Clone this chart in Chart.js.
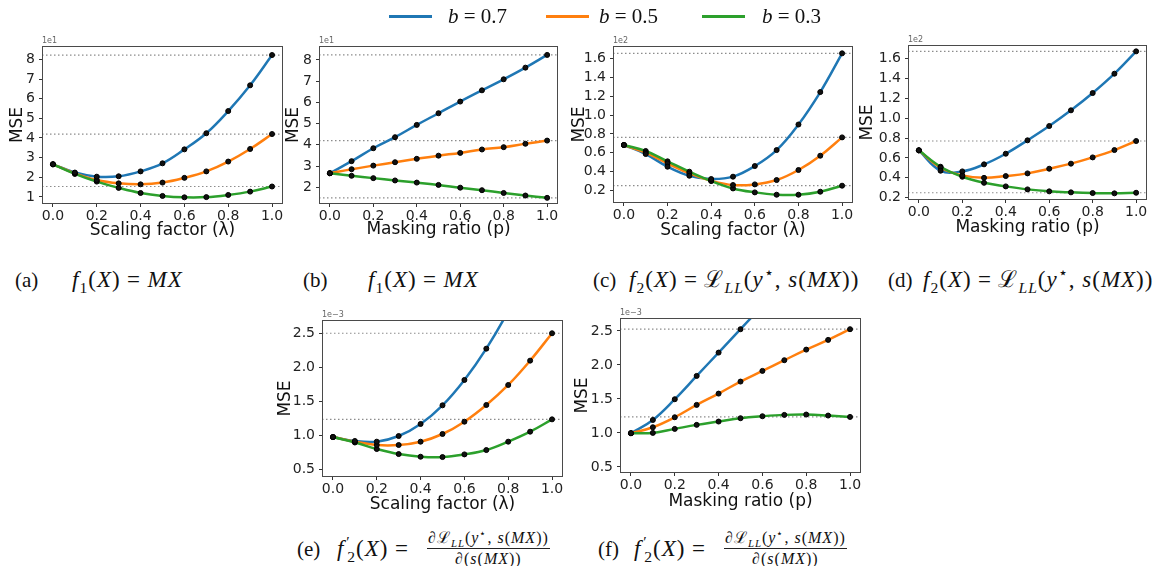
<!DOCTYPE html>
<html>
<head>
<meta charset="utf-8">
<script src="https://cdn.jsdelivr.net/npm/chart.js@4.4.1/dist/chart.umd.min.js"></script>
<style>
  html, body { margin: 0; padding: 0; background: #fff; }
  body { width: 1166px; height: 566px; position: relative; overflow: hidden;
         font-family: 'Liberation Serif', 'DejaVu Serif', serif; color: #111; }
  canvas { position: absolute; }
  .leg-line { position: absolute; height: 3px; width: 43px; }
  .txt { position: absolute; white-space: nowrap; font-size: 21px; line-height: 24px; }
  .math { font-size: 23px; letter-spacing: 1px; }
  .eq { margin: 0 0.28em; }
  sub, sup { font-size: 68%; line-height: 0; }
  .pr { margin-left: 0.12em; }
  .frac { position: absolute; font-size: 16px; line-height: 18px; letter-spacing: 1px; text-align: center; white-space: nowrap; }
  .frac .num { border-bottom: 1px solid #222; padding: 0 1px 1px; }
  .frac .den { padding-top: 1px; }
</style>
</head>
<body>
<script>
// shared x values and labels
const xValues = [0.0, 0.1, 0.2, 0.3, 0.4, 0.5, 0.6, 0.7, 0.8, 0.9, 1.0];
const xTicks = [0.0, 0.2, 0.4, 0.6, 0.8, 1.0];
const seriesLabels = ['0.7', '0.5', '0.3'];
const seriesColors = ['#1f77b4', '#ff7f0e', '#2ca02c'];

// (a) f1, scaling factor
const a07 = [2.66, 2.24, 2.03, 2.05, 2.30, 2.71, 3.42, 4.24, 5.37, 6.68, 8.22];
const a05 = [2.66, 2.20, 1.86, 1.69, 1.64, 1.73, 1.97, 2.30, 2.80, 3.44, 4.20];
const a03 = [2.66, 2.17, 1.78, 1.46, 1.20, 1.05, 0.98, 0.99, 1.10, 1.27, 1.53];
const aRefs = [8.22, 4.20, 1.53];
const aYTicks = [1, 2, 3, 4, 5, 6, 7, 8];

// (b) f1, masking ratio
const b07 = [2.66, 3.23, 3.84, 4.36, 4.94, 5.49, 6.04, 6.57, 7.09, 7.64, 8.24];
const b05 = [2.66, 2.85, 3.02, 3.18, 3.34, 3.49, 3.62, 3.78, 3.89, 4.05, 4.20];
const b03 = [2.66, 2.54, 2.43, 2.32, 2.22, 2.11, 1.98, 1.86, 1.73, 1.61, 1.50];
const bRefs = [8.24, 4.20, 1.50];
const bYTicks = [2, 3, 4, 5, 6, 7, 8];

// (c) f2, scaling factor
const c07 = [0.682, 0.586, 0.451, 0.355, 0.320, 0.345, 0.458, 0.628, 0.900, 1.245, 1.657];
const c05 = [0.682, 0.600, 0.487, 0.380, 0.302, 0.256, 0.263, 0.309, 0.416, 0.568, 0.763];
const c03 = [0.682, 0.618, 0.508, 0.398, 0.299, 0.220, 0.178, 0.153, 0.153, 0.185, 0.249];
const cRefs = [1.657, 0.763, 0.249];

// (d) f2, masking ratio
const d07 = [0.677, 0.472, 0.465, 0.536, 0.643, 0.778, 0.922, 1.080, 1.254, 1.449, 1.674];
const d05 = [0.677, 0.502, 0.425, 0.400, 0.418, 0.445, 0.492, 0.543, 0.606, 0.680, 0.771];
const d03 = [0.677, 0.512, 0.411, 0.350, 0.314, 0.284, 0.264, 0.254, 0.247, 0.244, 0.250];
const dRefs = [1.674, 0.771, 0.250];
const cdYTicks = [0.2, 0.4, 0.6, 0.8, 1.0, 1.2, 1.4, 1.6];

// (e) f2', scaling factor
const e07 = [0.980, 0.922, 0.912, 0.995, 1.172, 1.446, 1.819, 2.279, 2.830, 3.470, 4.200];
const e05 = [0.980, 0.912, 0.863, 0.863, 0.912, 1.025, 1.206, 1.451, 1.745, 2.103, 2.505];
const e03 = [0.980, 0.900, 0.804, 0.730, 0.691, 0.686, 0.725, 0.789, 0.912, 1.059, 1.240];
const eRefs = [2.505, 1.240];

// (f) f2', masking ratio
const f07 = [0.995, 1.190, 1.495, 1.838, 2.181, 2.525, 2.870, 3.210, 3.550, 3.890, 4.230];
const f05 = [0.995, 1.083, 1.230, 1.412, 1.578, 1.755, 1.912, 2.069, 2.225, 2.368, 2.525];
const f03 = [0.995, 1.000, 1.059, 1.118, 1.167, 1.216, 1.245, 1.265, 1.270, 1.255, 1.235];
const fRefs = [2.525, 1.235];
const efYTicks = [0.5, 1.0, 1.5, 2.0, 2.5];

const FONT = "'DejaVu Sans', sans-serif";

// frame + "1eN" offset text like matplotlib
const framePlugin = {
    id: 'frame',
    afterDraw(chart, args, opts) {
        const { ctx, chartArea: a } = chart;
        ctx.save();
        ctx.strokeStyle = '#4a4a4a';
        ctx.lineWidth = 1;
        ctx.strokeRect(a.left + 0.5, a.top + 0.5, a.right - a.left - 1, a.bottom - a.top - 1);
        ctx.fillStyle = '#666';
        ctx.font = "8px " + FONT;
        ctx.textBaseline = 'bottom';
        ctx.fillText(opts.text || '', a.left, a.top - 1);
        ctx.restore();
    }
};

const panels = [
    { series: [a07, a05, a03], refs: aRefs, yTicks: aYTicks, yMin: 0.64, yMax: 8.68, dec: 0, offset: '1e1',
      xTitle: 'Scaling factor (λ)', box: [42, 46, 283, 204], yTitleX: 17, xTitleY: 231 },
    { series: [b07, b05, b03], refs: bRefs, yTicks: bYTicks, yMin: 1.21, yMax: 8.66, dec: 0, offset: '1e1',
      xTitle: 'Masking ratio (p)', box: [319, 46, 558, 204], yTitleX: 293, xTitleY: 230 },
    { series: [c07, c05, c03], refs: cRefs, yTicks: cdYTicks, yMin: 0.065, yMax: 1.735, dec: 1, offset: '1e2',
      xTitle: 'Scaling factor (λ)', box: [613, 46, 853, 203], yTitleX: 579, xTitleY: 231 },
    { series: [d07, d05, d03], refs: dRefs, yTicks: cdYTicks, yMin: 0.177, yMax: 1.738, dec: 1, offset: '1e2',
      xTitle: 'Masking ratio (p)', box: [908, 45, 1147, 200], yTitleX: 867, xTitleY: 228 },
    { series: [e07, e05, e03], refs: eRefs, yTicks: efYTicks, yMin: 0.393, yMax: 2.70, dec: 1, offset: '1e\u22123',
      xTitle: 'Scaling factor (λ)', box: [322, 320, 563, 477], yTitleX: 285, xTitleY: 505 },
    { series: [f07, f05, f03], refs: fRefs, yTicks: efYTicks, yMin: 0.41, yMax: 2.69, dec: 1, offset: '1e\u22123',
      xTitle: 'Masking ratio (p)', box: [620, 318, 861, 473], yTitleX: 582, xTitleY: 502 }
];

function makeChart(p) {
    const [l, t, r, b] = p.box;
    const padTop = 14, padRight = 14;
    const cl = Math.round(p.yTitleX - 10);
    const cb = Math.round(p.xTitleY + 10);
    const W = l - cl, H = cb - b;

    const canvas = document.createElement('canvas');
    canvas.width = r + padRight - cl;
    canvas.height = cb - (t - padTop);
    canvas.style.left = cl + 'px';
    canvas.style.top = (t - padTop) + 'px';
    document.body.appendChild(canvas);

    const datasets = [];
    p.refs.forEach(v => {
        datasets.push({
            data: [{ x: -0.05, y: v }, { x: 1.05, y: v }],
            borderColor: '#8c8c8c', borderWidth: 1.2, borderDash: [1.5, 2.5],
            pointRadius: 0, tension: 0, order: 10
        });
    });
    p.series.forEach((ys, i) => {
        const pts = xValues.map((x, j) => ({ x: x, y: ys[j] }));
        datasets.push({
            label: 'b = ' + seriesLabels[i], data: pts,
            borderColor: seriesColors[i], borderWidth: 2.5,
            pointRadius: 0, tension: 0.4, order: 5 - i
        });
        datasets.push({
            data: pts, showLine: false,
            pointRadius: 2.5, pointBackgroundColor: '#111', pointBorderColor: '#000', pointBorderWidth: 1,
            order: 1
        });
    });

    const tickGrid = { display: true, drawOnChartArea: false, drawTicks: true, tickLength: 3, color: '#333' };

    new Chart(canvas, {
        type: 'line',
        data: { datasets: datasets },
        options: {
            responsive: false,
            animation: false,
            events: [],
            layout: { padding: { left: 0, top: padTop, right: padRight, bottom: 0 } },
            plugins: { legend: { display: false }, tooltip: { enabled: false }, frame: { text: p.offset } },
            scales: {
                x: {
                    type: 'linear', min: -0.05, max: 1.05,
                    grid: tickGrid, border: { display: false },
                    afterBuildTicks: s => { s.ticks = xTicks.map(v => ({ value: v })); },
                    afterFit: s => { s.height = H; s.paddingLeft = 0; s.paddingRight = 0; },
                    ticks: { autoSkip: false, maxRotation: 0, padding: 1, color: '#222',
                             font: { family: FONT, size: 14 }, callback: v => v.toFixed(1) },
                    title: { display: true, text: p.xTitle, color: '#111', padding: 0,
                             font: { family: FONT, size: 17, lineHeight: 1.2 } }
                },
                y: {
                    min: p.yMin, max: p.yMax,
                    grid: tickGrid, border: { display: false },
                    afterBuildTicks: s => { s.ticks = p.yTicks.map(v => ({ value: v })); },
                    afterFit: s => { s.width = W; s.paddingTop = 0; s.paddingBottom = 0; },
                    ticks: { autoSkip: false, padding: 4, color: '#222',
                             font: { family: FONT, size: 14 }, callback: v => v.toFixed(p.dec) },
                    title: { display: true, text: 'MSE', color: '#111', padding: 0,
                             font: { family: FONT, size: 17, lineHeight: 1.2 } }
                }
            }
        },
        plugins: [framePlugin]
    });
}

panels.forEach(makeChart);

// figure legend
const legendSpots = [[389, 448], [546, 599], [702, 762]];
seriesLabels.forEach((lab, i) => {
    const line = document.createElement('div');
    line.className = 'leg-line';
    line.style.left = legendSpots[i][0] + 'px';
    line.style.top = '15px';
    line.style.background = seriesColors[i];
    document.body.appendChild(line);
    const txt = document.createElement('div');
    txt.className = 'txt';
    txt.style.left = legendSpots[i][1] + 'px';
    txt.style.top = '4px';
    txt.innerHTML = '<i>b</i> = ' + lab;
    document.body.appendChild(txt);
});

// sub-figure captions
const EQ = '<span class="eq">=</span>';
const LL = '\u2112<sub><i>LL</i></sub>(<i>y</i><sup>\u22c6</sup>, <i>s</i>(<i>MX</i>))';
const F1 = '<span class="math"><i>f</i><sub>1</sub>(<i>X</i>)' + EQ + '<i>MX</i></span>';
const F2 = '<span class="math"><i>f</i><sub>2</sub>(<i>X</i>)' + EQ + LL + '</span>';
const F2P = '<span class="math"><i>f</i><sup class="pr">\u2032</sup><sub style="margin-left:-0.22em">2</sub>(<i>X</i>)' + EQ + '</span>';
const captions = [
    [15, 268, '(a)'], [72, 268, F1],
    [303, 268, '(b)'], [368, 268, F1],
    [593, 268, '(c)'], [629, 268, F2],
    [888, 268, '(d)'], [923, 268, F2],
    [297, 537, '(e)'], [337, 537, F2P],
    [598, 537, '(f)'], [634, 537, F2P]
];
captions.forEach(c => {
    const d = document.createElement('div');
    d.className = 'txt';
    d.style.left = c[0] + 'px';
    d.style.top = c[1] + 'px';
    d.innerHTML = c[2];
    document.body.appendChild(d);
});

const NUM = '\u2202\u2112<sub><i>LL</i></sub>(<i>y</i><sup>\u22c6</sup>, <i>s</i>(<i>MX</i>))';
const DEN = '\u2202(<i>s</i>(<i>MX</i>))';
[[427, 529], [724, 529]].forEach(pos => {
    const d = document.createElement('div');
    d.className = 'frac';
    d.style.left = pos[0] + 'px';
    d.style.top = pos[1] + 'px';
    d.innerHTML = '<div class="num">' + NUM + '</div><div class="den">' + DEN + '</div>';
    document.body.appendChild(d);
});
</script>
</body>
</html>
